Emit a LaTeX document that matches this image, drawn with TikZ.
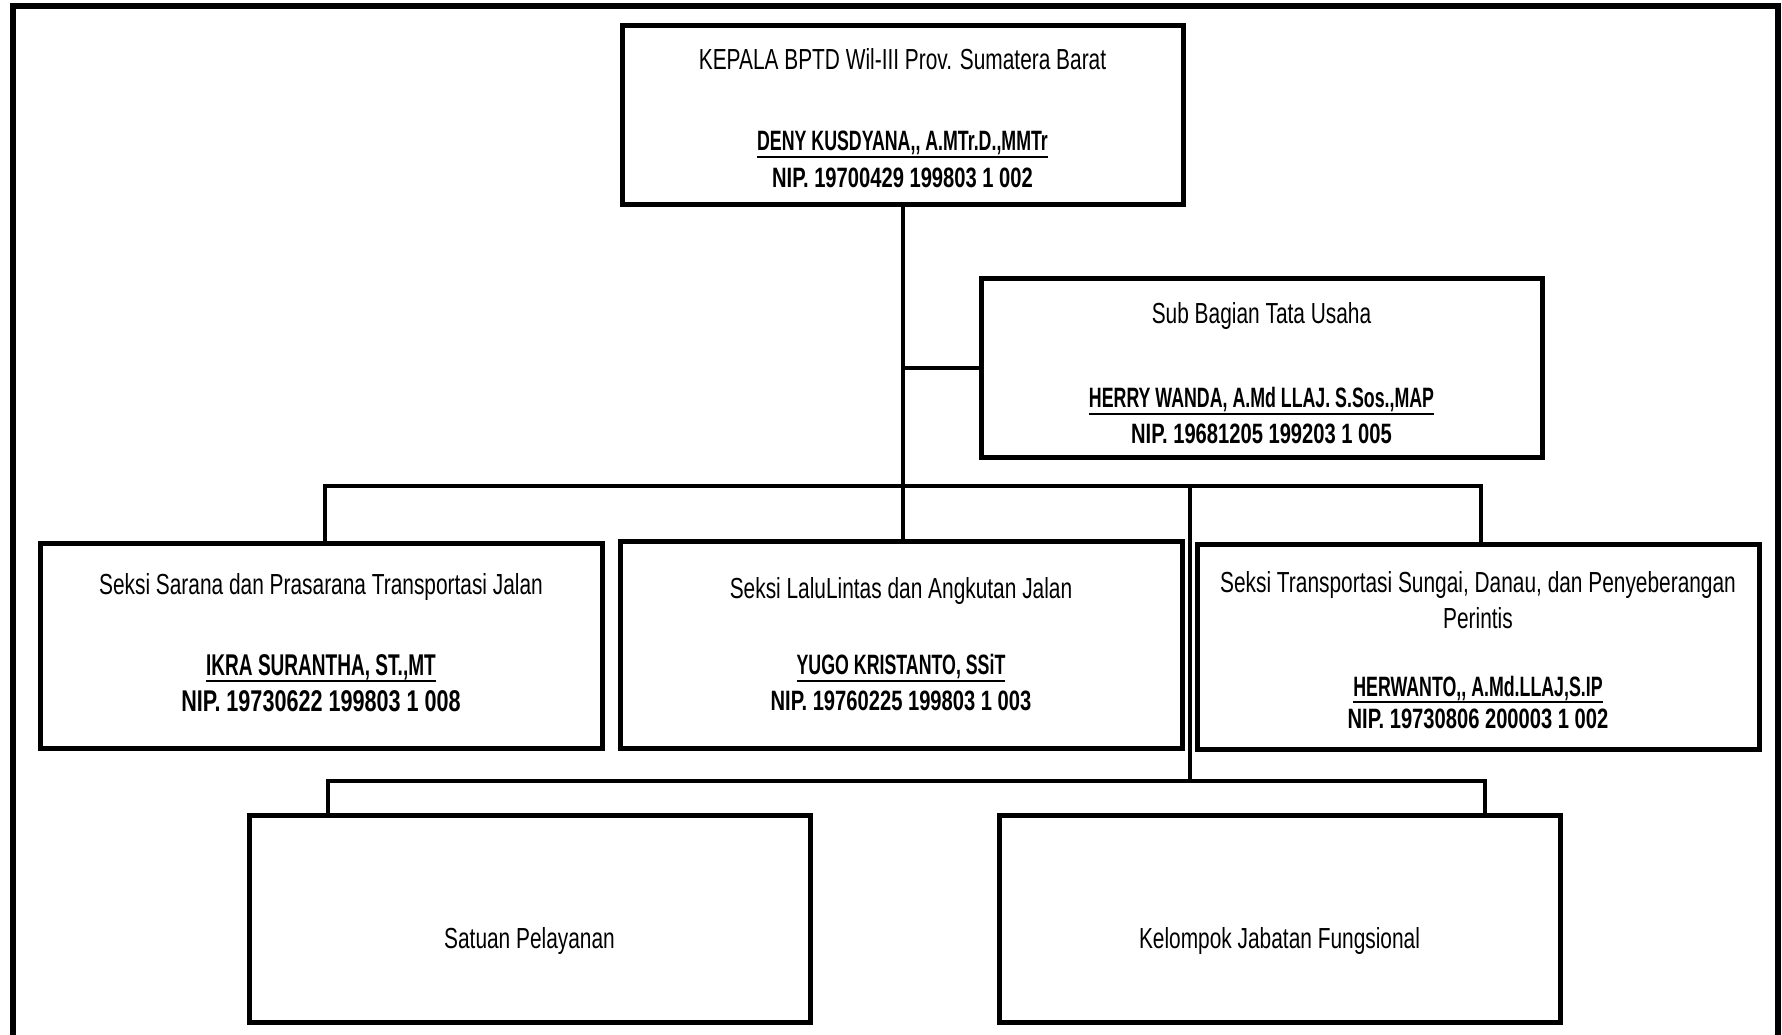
\documentclass[tikz,border=0pt]{standalone}
\usepackage{fontspec}
\setmainfont{Liberation Sans}[FakeStretch=0.72]
\newfontfamily\namefont{Liberation Sans}[FakeStretch=0.635]
\newcommand\nameul[1]{\setbox0=\hbox{#1}\leavevmode\rlap{\vrule height -5pt depth 7pt width \wd0}\box0}
\newcommand\bnm{\bfseries\fontsize{28}{36}\selectfont}
\newcommand\nmf{\namefont\bfseries\fontsize{28}{36}\selectfont}
\newcommand\up[1]{\rule{0pt}{#1}}
\newcommand\dn[1]{\rule[-#1]{0pt}{0pt}}
\begin{document}
\begin{tikzpicture}[x=1pt,y=-1pt,
  unit/.style={draw=black, line width=5pt, inner sep=0pt, align=center,
    minimum width=561pt, font=\fontsize{29}{36}\selectfont},
  conn/.style={line width=4pt},
  outerframe/.style={line width=6pt}]
\useasboundingbox (0,0) rectangle (1782,1035);
\fill[white] (0,0) rectangle (1782,1035);
\draw[outerframe] (13,1040) -- (13,6) -- (1778,6) -- (1778,1040);

\node[unit, minimum height=179pt] (kepala) at (902.5,115.5)
  {\up{27pt}KEPALA BPTD Wil-III Prov. Sumatera Barat\\[45pt]{\nmf\nameul{DENY KUSDYANA,\kern0pt, A.MTr.D.,MMTr}}\\[1pt]{\bnm NIP. 19700429 199803 1 002}};
\node[unit, minimum height=179pt] (sub) at (1261.5,367.5)
  {\up{33pt}Sub Bagian Tata Usaha\\[48pt]{\nmf\nameul{HERRY WANDA, A.Md LLAJ. S.Sos.,MAP}}\\{\bnm NIP. 19681205 199203 1 005}};
\node[unit, minimum width=562pt, minimum height=205pt] (s1) at (321,645.5)
  {Seksi Sarana dan Prasarana Transportasi Jalan\\[45pt]{\nmf\fontsize{30}{38}\selectfont\nameul{IKRA SURANTHA, ST.,MT}}\\{\bnm\fontsize{30}{38}\selectfont NIP. 19730622 199803 1 008\dn{7pt}}};
\node[unit, minimum width=562pt, minimum height=207pt] (s2) at (901,644.5)
  {Seksi LaluLintas dan Angkutan Jalan\\[40pt]{\nmf\nameul{YUGO KRISTANTO, SSiT}}\\{\bnm NIP. 19760225 199803 1 003}};
\node[unit, minimum width=562pt, minimum height=205pt] (s3) at (1478,646.5)
  {\up{28pt}Seksi Transportasi Sungai, Danau, dan Penyeberangan\\Perintis\\[32pt]{\nmf\nameul{HERWANTO,\kern0pt, A.Md.LLAJ,S.IP}}\\[-4pt]{\bnm NIP. 19730806 200003 1 002}};
\node[unit, minimum height=207pt] (sp) at (529.5,918.5) {\raisebox{-30pt}[0pt][0pt]{Satuan Pelayanan}};
\node[unit, minimum height=207pt] (kjf) at (1279.5,918.5) {\raisebox{-30pt}[0pt][0pt]{Kelompok Jabatan Fungsional}};

\coordinate (d1) at (325,486);
\coordinate (d3) at (1481,486);
\coordinate (j) at (1190,486);
\coordinate (d4) at (328,781);
\coordinate (d5) at (1485,781);
\draw[conn] (kepala.south) -- (kepala.south |- s2.north);
\draw[conn] (sub.west) -- (sub.west -| kepala.south);
\draw[conn] (s1.north -| d1) -- (d1) -- (d3) -- (s3.north -| d3);
\draw[conn] (j) -- (j |- d4);
\draw[conn] (sp.north -| d4) -- (d4) -- (d5) -- (kjf.north -| d5);
\end{tikzpicture}
\end{document}
